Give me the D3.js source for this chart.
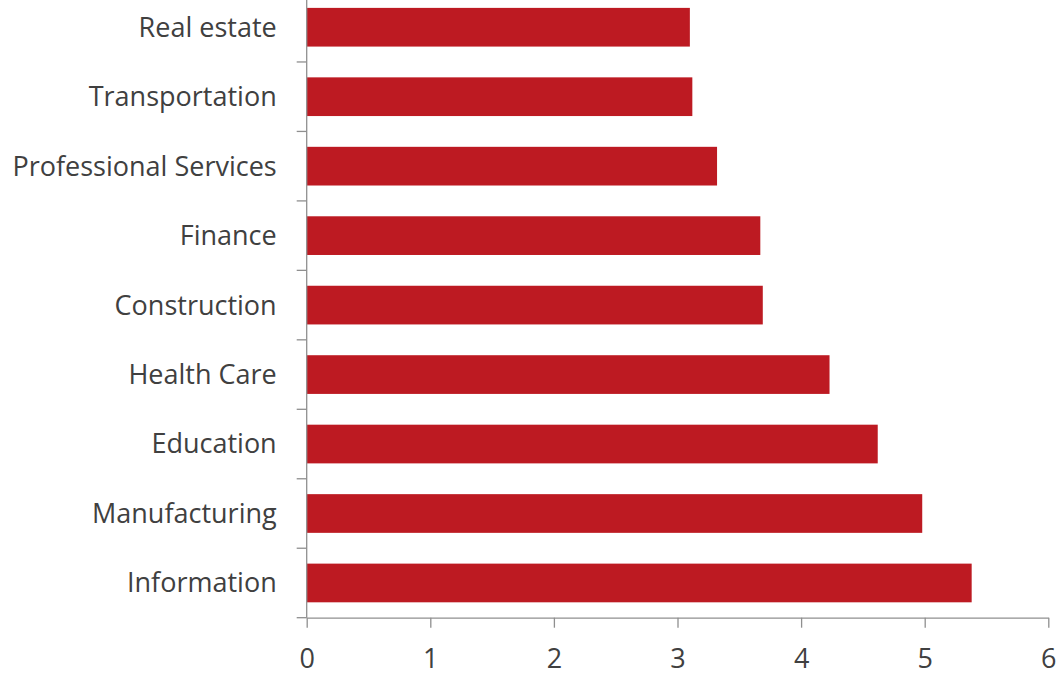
<!DOCTYPE html>
<html>
<head>
<meta charset="utf-8">
<script src="https://cdn.jsdelivr.net/npm/d3@7"></script>
<style>
  html, body { margin: 0; padding: 0; background: #fff; }
  svg { display: block; }
  .lbl { font-family: "Open Sans", "Noto Sans", sans-serif; fill: #404040; }
</style>
</head>
<body>
<svg id="chart" width="1060" height="673"></svg>
<script>
// Industries, top to bottom
const categories = [
  "Real estate", "Transportation", "Professional Services", "Finance",
  "Construction", "Health Care", "Education", "Manufacturing", "Information"
];
const values = [3.10, 3.12, 3.32, 3.67, 3.69, 4.23, 4.62, 4.98, 5.38];
const xTickValues = [0, 1, 2, 3, 4, 5, 6];

const plotLeft = 306.7, plotRight = 1048.3;
const plotTop = -7.5, plotBottom = 617.7;
const barColor = "#BD1A22";
const axisColor = "#8f8f8f";
const fontSize = 27;

const svg = d3.select("#chart");

const x = d3.scaleLinear().domain([0, 6]).range([plotLeft, plotRight]);
const inner = 0.443;
const y = d3.scaleBand()
  .domain(categories)
  .range([plotTop, plotBottom])
  .paddingInner(inner)
  .paddingOuter(inner / 2);
const step = y.step();

// bars
svg.append("g").selectAll("rect")
  .data(categories.map((c, i) => ({ c, v: values[i] })))
  .join("rect")
  .attr("x", x(0))
  .attr("y", d => y(d.c))
  .attr("width", d => x(d.v) - x(0))
  .attr("height", y.bandwidth())
  .attr("fill", barColor);

// category axis: vertical line with ticks at band boundaries
const gy = svg.append("g");
gy.append("line")
  .attr("x1", plotLeft).attr("x2", plotLeft)
  .attr("y1", plotTop).attr("y2", plotBottom)
  .attr("stroke", axisColor).attr("stroke-width", 1.3);
const boundaries = categories.map(c => y(c) - step * inner / 2 + step);
gy.selectAll("line.tick")
  .data(boundaries)
  .join("line")
  .attr("class", "tick")
  .attr("x1", plotLeft - 10).attr("x2", plotLeft)
  .attr("y1", d => d).attr("y2", d => d)
  .attr("stroke", axisColor).attr("stroke-width", 1.3);
gy.selectAll("text")
  .data(categories)
  .join("text")
  .attr("class", "lbl")
  .attr("x", plotLeft - 30)
  .attr("y", d => y(d) + y.bandwidth() / 2)
  .attr("dy", "0.35em")
  .attr("text-anchor", "end")
  .attr("font-size", fontSize)
  .text(d => d);

// value axis
const gx = svg.append("g")
  .attr("transform", `translate(0,${plotBottom})`)
  .call(d3.axisBottom(x).tickValues(xTickValues).tickFormat(d3.format("d"))
    .tickSize(10).tickSizeOuter(0).tickPadding(21));
gx.select(".domain").attr("stroke", axisColor).attr("stroke-width", 1.3);
gx.selectAll(".tick line").attr("stroke", axisColor).attr("stroke-width", 1.3);
gx.selectAll(".tick text")
  .attr("class", "lbl")
  .attr("font-size", fontSize)
  .attr("fill", null);
</script>
</body>
</html>
